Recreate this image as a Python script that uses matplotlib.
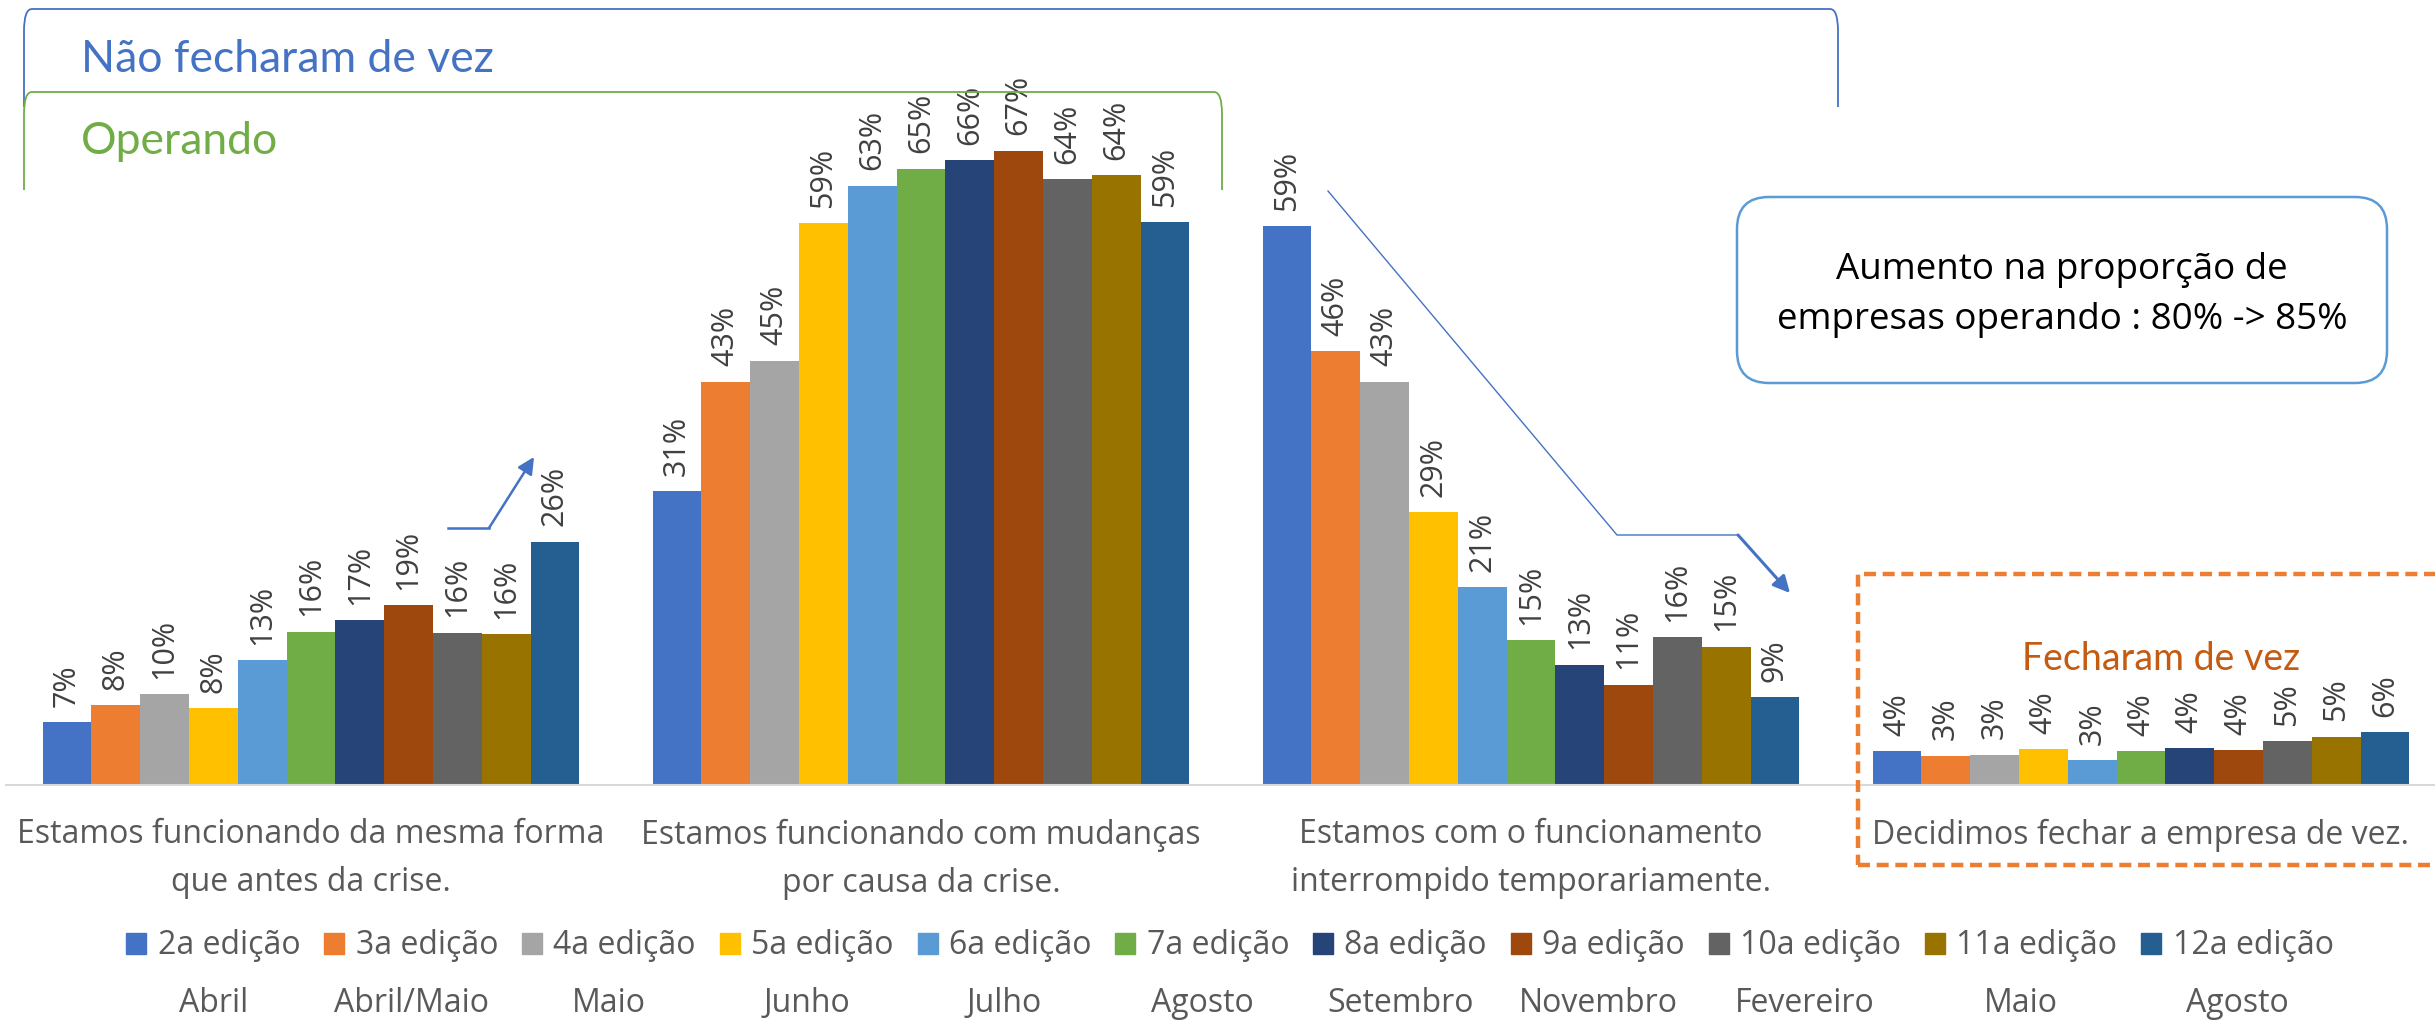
import numpy as np
import matplotlib
matplotlib.use('Agg')
import matplotlib.pyplot as plt
from matplotlib.patches import Rectangle, FancyBboxPatch, FancyArrowPatch, PathPatch
from matplotlib.lines import Line2D
from matplotlib.path import Path
from matplotlib.transforms import Affine2D

W, H = 2435, 1024

categories = ["Estamos funcionando da mesma forma\nque antes da crise.",
              "Estamos funcionando com mudanças\npor causa da crise.",
              "Estamos com o funcionamento\ninterrompido temporariamente.",
              "Decidimos fechar a empresa de vez."]
editions = ['2a edição', '3a edição', '4a edição', '5a edição', '6a edição', '7a edição',
            '8a edição', '9a edição', '10a edição', '11a edição', '12a edição']
months = ['Abril', 'Abril/Maio', 'Maio', 'Junho', 'Julho', 'Agosto',
          'Setembro', 'Novembro', 'Fevereiro', 'Maio', 'Agosto']
colors = ['#4472C4', '#ED7D31', '#A5A5A5', '#FFC000', '#5B9BD5', '#70AD47',
          '#264478', '#9E480E', '#636363', '#997300', '#255E91']

# % of companies per edition, one list per answer
mesma_forma = [6.6, 8.4, 9.6, 8.1, 13.2, 16.2, 17.4, 19.0, 16.1, 15.9, 25.7]
com_mudancas = [31.0, 42.6, 44.8, 59.3, 63.3, 65.1, 66.0, 67.0, 64.0, 64.4, 59.4]
interrompido = [59.0, 45.8, 42.6, 28.8, 20.9, 15.3, 12.7, 10.6, 15.6, 14.6, 9.3]
fechou = [3.6, 3.1, 3.2, 3.8, 2.6, 3.6, 3.9, 3.7, 4.6, 5.1, 5.6]

values = np.array([mesma_forma, com_mudancas, interrompido, fechou])

FONT = 'Open Sans'
TXT = '#595959'

fig = plt.figure(figsize=(W / 100, H / 100), dpi=100)
ax = fig.add_axes([6 / W, 1 - 785 / H, 2440 / W, 785 / H])

x = np.arange(len(categories))
bw = 0.08
n = len(editions)
for i in range(n):
    xs = x + (i - (n - 1) / 2) * bw
    ax.bar(xs, values[:, i], width=bw, color=colors[i], linewidth=0, label=editions[i])
    for xx, v in zip(xs, values[:, i]):
        ax.annotate(f'{v:.0f}%', xy=(xx, v), xytext=(0, 11), textcoords='offset points',
                    rotation=90, ha='center', va='bottom', fontsize=22,
                    family=FONT, color='#404040')

ax.set_xlim(-0.5, 3.5)
ax.set_ylim(0, 785 / 9.47)
for s in ['top', 'left', 'right']:
    ax.spines[s].set_visible(False)
ax.spines['bottom'].set_color('#D9D9D9')
ax.spines['bottom'].set_linewidth(1.5)
ax.set_yticks([])
ax.set_xticks(x)
ax.set_xticklabels(categories, fontsize=23, family=FONT, color=TXT, linespacing=1.6)
ax.tick_params(axis='x', length=0, pad=24)

# legend + months under it
handles = [plt.Rectangle((0, 0), 1, 1, color=c) for c in colors]
leg = fig.legend(handles, editions, loc='center', bbox_to_anchor=(1230 / W, 1 - 946 / H),
                 ncol=n, frameon=False, prop={'family': FONT, 'size': 23},
                 handlelength=0.63, handleheight=0.65, handletextpad=0.35, columnspacing=0.75,
                 labelcolor=TXT)
fig.canvas.draw()
r = fig.canvas.get_renderer()
for hd, t, m in zip(leg.legend_handles, leg.get_texts(), months):
    b1 = hd.get_window_extent(r)
    b2 = t.get_window_extent(r)
    fig.text((b1.x0 + b2.x1) / 2 / W, 1 - 1003 / H, m, ha='center', va='center',
             fontsize=23, family=FONT, color=TXT)

# decorations, drawn in pixel coords (y from top)
T = Affine2D().scale(1 / W, 1 / H) + fig.transFigure


def P(px, py):
    return (px, H - py)


def bracket(x0, x1, ytop, ybot, color, rx=8, ry=22):
    verts = [P(x0, ybot), P(x0, ytop + ry), P(x0, ytop), P(x0 + rx, ytop),
             P(x1 - rx, ytop), P(x1, ytop), P(x1, ytop + ry), P(x1, ybot)]
    codes = [Path.MOVETO, Path.LINETO, Path.CURVE3, Path.CURVE3,
             Path.LINETO, Path.CURVE3, Path.CURVE3, Path.LINETO]
    fig.add_artist(PathPatch(Path(verts, codes), fill=False, ec=color, lw=1.3, transform=T))


bracket(24, 1838, 9, 107, '#4472C4')
bracket(24, 1222, 92, 190, '#70AD47')
fig.text(81 / W, 1 - 59 / H, 'Não fecharam de vez', color='#4472C4', fontsize=32,
         family='Lato', ha='left', va='center')
fig.text(81 / W, 1 - 142 / H, 'Operando', color='#70AD47', fontsize=32,
         family='Lato', ha='left', va='center')

box = FancyBboxPatch(P(1737, 383), 650, 186, boxstyle='round,pad=0,rounding_size=32',
                     fc='white', ec='#5B9BD5', lw=1.8, transform=T)
fig.add_artist(box)
fig.text(2062 / W, 1 - 295 / H, 'Aumento na proporção de\nempresas operando : 80% -> 85%',
         ha='center', va='center', fontsize=26.5, family=FONT, color='black', linespacing=1.5)

fig.add_artist(Rectangle(P(1858, 865), 600, 291, fill=False, ec='#ED7D31', lw=3.2,
                         ls=(0, (2.7, 1.5)), transform=T))
fig.text(2161 / W, 1 - 659 / H, 'Fecharam de vez', color='#C55A11', fontsize=27,
         family='Lato', ha='center', va='center')

# arrows
fig.add_artist(Line2D([448, 489], [H - 528, H - 528], color='#4472C4', lw=1.8, transform=T))
fig.add_artist(FancyArrowPatch(P(489, 528), P(534, 457), arrowstyle='-|>', mutation_scale=25,
                               color='#4472C4', lw=1.8, shrinkA=0, shrinkB=0, transform=T))
fig.add_artist(Line2D([1328, 1617, 1738], [H - 191, H - 535, H - 535], color='#4472C4',
                      lw=1.0, transform=T))
fig.add_artist(FancyArrowPatch(P(1738, 535), P(1790, 593), arrowstyle='-|>', mutation_scale=25,
                               color='#4472C4', lw=2.2, shrinkA=0, shrinkB=0, transform=T))

fig.savefig('out.png', dpi=100)
